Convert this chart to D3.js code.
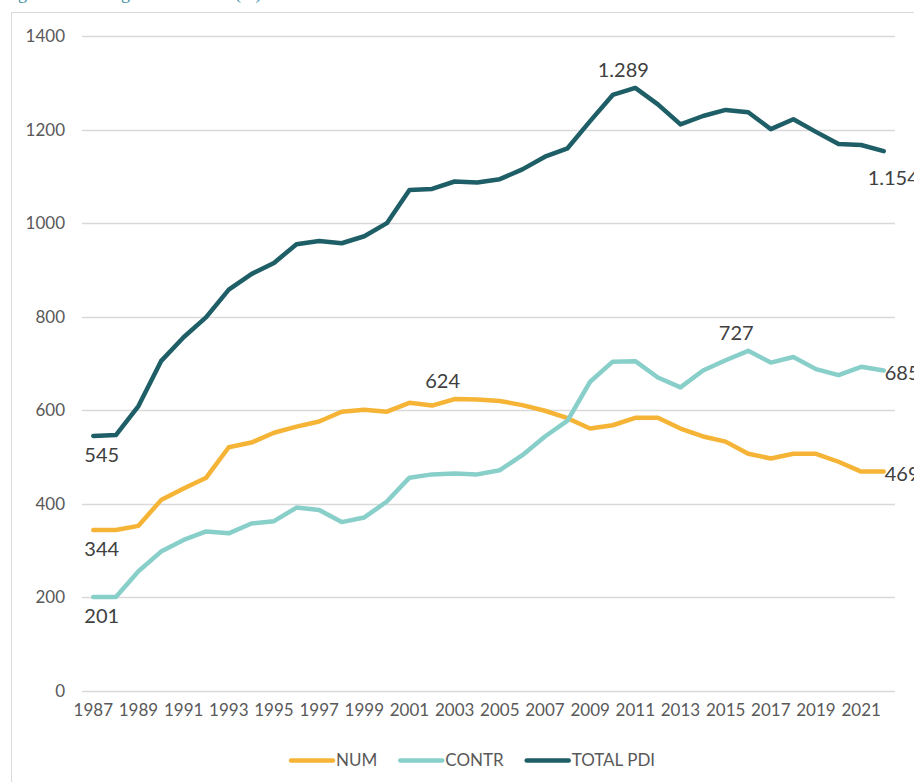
<!DOCTYPE html>
<html>
<head>
<meta charset="utf-8">
<script src="https://cdn.jsdelivr.net/npm/d3@7"></script>
<style>
  body { margin: 0; background: #fff; }
  svg { display: block; font-family: Lato, "Open Sans", sans-serif; }
</style>
</head>
<body>
<script>
var W = 914, H = 782;

var years = d3.range(1987, 2023);
var num = [344, 344, 353, 408, 433, 456, 521, 531, 552, 565, 576, 597, 601, 597, 616, 610, 624, 623, 620, 611,
           599, 583, 561, 568, 584, 584, 561, 544, 533, 507, 497, 507, 507, 490, 469, 469];
var contr = [201, 201, 256, 298, 323, 341, 337, 358, 363, 392, 387, 361, 371, 405, 456, 463, 465, 463, 472, 504,
             544, 578, 661, 704, 705, 670, 649, 685, 707, 727, 702, 714, 688, 675, 693, 685];
var total = [545, 547, 609, 705, 756, 799, 858, 891, 915, 955, 962, 957, 972, 1000, 1071, 1073, 1089, 1087, 1094, 1115,
             1142, 1160, 1218, 1274, 1289, 1254, 1211, 1229, 1242, 1237, 1201, 1222, 1195, 1169, 1167, 1154];
var seriesNames = ["NUM", "CONTR", "TOTAL PDI"];
var seriesColors = ["#F5B436", "#88CFCA", "#1E5E66"];
var yTicks = [0, 200, 400, 600, 800, 1000, 1200, 1400];

// which points carry a value label and where it sits
var labels = [
  {s: 2, year: 1987, pos: "belowLeft"},
  {s: 0, year: 1987, pos: "belowLeft"},
  {s: 1, year: 1987, pos: "belowLeft"},
  {s: 0, year: 2003, pos: "above"},
  {s: 2, year: 2011, pos: "above"},
  {s: 1, year: 2016, pos: "above"},
  {s: 2, year: 2022, pos: "belowRight"},
  {s: 1, year: 2022, pos: "right"},
  {s: 0, year: 2022, pos: "right"}
];

var series = [num, contr, total];

var es = d3.formatLocale({decimal: ",", thousands: ".", grouping: [3], currency: ["", " €"]});
var fmt = es.format(",d");

var svg = d3.select("body").append("svg")
    .attr("width", W)
    .attr("height", H);

// cut-off caption above the chart box
svg.append("text")
    .attr("x", 3)
    .attr("y", -1)
    .style("font-family", "'Liberation Serif', serif")
    .style("font-size", "18px")
    .style("fill", "#3B8EA5")
    .text("Figura 1. PDI según dedicación (nº)");

// chart frame
svg.append("rect")
    .attr("x", 11.5)
    .attr("y", 12.5)
    .attr("width", W + 20)
    .attr("height", H + 20)
    .style("fill", "none")
    .style("stroke", "#D9D9D9")
    .style("stroke-width", 1);

var x = d3.scaleBand().domain(years).range([82, 895]);
var y = d3.scaleLinear().domain([0, 1400]).range([691, 36]);
var cx = function(yr) { return x(yr) + x.bandwidth() / 2; };

// grid
svg.append("g").selectAll("line")
  .data(yTicks)
  .enter()
  .append("line")
    .attr("x1", x.range()[0])
    .attr("x2", x.range()[1])
    .attr("y1", function(d) { return Math.round(y(d)) + 0.5; })
    .attr("y2", function(d) { return Math.round(y(d)) + 0.5; })
    .style("stroke", "#D9D9D9")
    .style("stroke-width", 1.3);

// y axis
var yAxis = svg.append("g")
    .attr("transform", "translate(65,0)")
    .call(d3.axisLeft(y).tickValues(yTicks).tickSize(0).tickPadding(0).tickFormat(d3.format("d")));
yAxis.select(".domain").remove();
yAxis.selectAll("text")
    .style("font-family", "Lato, sans-serif")
    .style("font-size", "17px")
    .style("fill", "#595959");

// x axis
var xAxis = svg.append("g")
    .attr("transform", "translate(0,691)")
    .call(d3.axisBottom(x).tickValues(years.filter(function(d) { return d % 2 == 1; })).tickSize(0).tickPadding(13));
xAxis.select(".domain").remove();
xAxis.selectAll("text")
    .style("font-family", "Lato, sans-serif")
    .style("font-size", "17px")
    .style("fill", "#595959");

// lines
var line = d3.line()
    .x(function(d, i) { return cx(years[i]); })
    .y(function(d) { return y(d); });

svg.append("g").selectAll("path")
  .data(series)
  .enter()
  .append("path")
    .attr("d", line)
    .style("fill", "none")
    .style("stroke", function(d, i) { return seriesColors[i]; })
    .style("stroke-width", 4.5)
    .style("stroke-linejoin", "round")
    .style("stroke-linecap", "round");

// value labels
svg.append("g").selectAll("text")
  .data(labels)
  .enter()
  .append("text")
    .each(function(d) {
      var i = years.indexOf(d.year);
      var v = series[d.s][i];
      var px = cx(d.year), py = y(v);
      var t = d3.select(this).text(fmt(v))
          .attr("dy", "0.35em");
      if (d.pos == "belowLeft") {
        t.attr("x", px - 9).attr("y", py + 19).attr("text-anchor", "start");
      } else if (d.pos == "above") {
        t.attr("x", px - 12).attr("y", py - 18).attr("text-anchor", "middle");
      } else if (d.pos == "belowRight") {
        t.attr("x", px - 16).attr("y", py + 27).attr("text-anchor", "start");
      } else {
        t.attr("x", px + 1).attr("y", py + 2).attr("text-anchor", "start");
      }
    })
    .style("font-size", "20px")
    .style("fill", "#404040");

// legend
var legend = svg.append("g").attr("transform", "translate(289,760)");
var lx = 0;
seriesNames.forEach(function(name, i) {
  var g = legend.append("g").attr("transform", "translate(" + lx + ",0)");
  g.append("line")
      .attr("x1", 2).attr("x2", 44)
      .attr("y1", 0.5).attr("y2", 0.5)
      .style("stroke", seriesColors[i])
      .style("stroke-width", 4.5)
      .style("stroke-linecap", "round");
  var t = g.append("text")
      .attr("x", 47)
      .attr("dy", "0.38em")
      .style("font-size", "17px")
      .style("fill", "#595959")
      .text(name);
  lx += 47 + t.node().getComputedTextLength() + 21;
});
</script>
</body>
</html>
